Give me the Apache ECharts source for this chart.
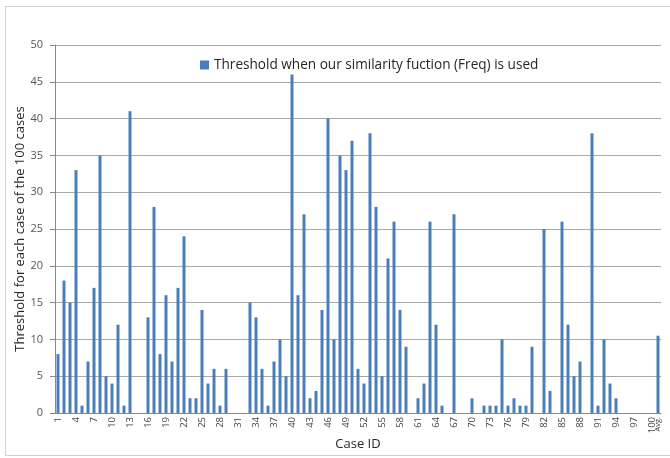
<!DOCTYPE html>
<html>
<head>
<meta charset="utf-8">
<script src="https://cdn.jsdelivr.net/npm/echarts@6/dist/echarts.min.js"></script>
<style>
  html, body { margin: 0; padding: 0; background: #fff; }
  #frame { position: absolute; left: 5px; top: 6px; width: 670px; height: 450px; border: 1px solid #d0d0d0; border-right: none; box-sizing: border-box; }
  #main { width: 670px; height: 458px; position: absolute; left: 0; top: 0; }
</style>
</head>
<body>
<div id="frame"></div>
<div id="main"></div>
<script>
// case ids 1..100 + the average
var caseIds = [];
for (var i = 1; i <= 100; i++) caseIds.push(String(i));
caseIds.push('Avg.');

// threshold read per case (1..100), then Avg.
var thresholds = [
    8, 18, 15, 33, 1, 7, 17, 35, 5, 4,
    12, 1, 41, 0, 0, 13, 28, 8, 16, 7,
    17, 24, 2, 2, 14, 4, 6, 1, 6, 0,
    0, 0, 15, 13, 6, 1, 7, 10, 5, 46,
    16, 27, 2, 3, 14, 40, 10, 35, 33, 37,
    6, 4, 38, 28, 5, 21, 26, 14, 9, 0,
    2, 4, 26, 12, 1, 0, 27, 0, 0, 2,
    0, 1, 1, 1, 10, 1, 2, 1, 1, 9,
    0, 25, 3, 0, 26, 12, 5, 7, 0, 38,
    1, 10, 4, 2, 0, 0, 0, 0, 0, 0,
    10.5
];

var seriesName = 'Threshold when our similarity fuction (Freq) is used';
var yTicks = [0, 5, 10, 15, 20, 25, 30, 35, 40, 45, 50];

var chart = echarts.init(document.getElementById('main'));
var font = '"Open Sans", "DejaVu Sans", sans-serif';
var avgIdx = caseIds.length - 1;

chart.setOption({
    animation: false,
    textStyle: { fontFamily: font },
    grid: { left: 55, right: 9, top: 45, bottom: 45, outerBoundsMode: 'none', containLabel: false },
    legend: {
        data: [seriesName],
        left: 195,
        top: 53,
        icon: 'rect',
        itemWidth: 9,
        itemHeight: 9,
        itemGap: 5,
        textStyle: { fontSize: 13.6, color: '#262626', fontFamily: font }
    },
    xAxis: [{
        type: 'category',
        data: caseIds,
        name: 'Case ID',
        nameLocation: 'middle',
        nameGap: 25,
        nameMoveOverlap: false,
        nameTextStyle: { fontSize: 13, color: '#262626' },
        axisLine: { lineStyle: { color: '#888' } },
        axisTick: { interval: 0, length: 4, lineStyle: { color: '#888' } },
        axisLabel: {
            rotate: 90,
            margin: 4,
            fontSize: 9.5,
            color: '#444',
            interval: function (idx) { return idx % 3 === 0 && idx !== avgIdx; }
        }
    }, {
        // only carries the "Avg." label, drawn smaller like the original
        type: 'category',
        data: caseIds,
        position: 'bottom',
        axisLine: { show: false },
        axisTick: { show: false },
        axisLabel: {
            rotate: 90,
            margin: 4,
            fontSize: 7.5,
            color: '#444',
            showMaxLabel: true,
            interval: function (idx) { return idx === avgIdx; }
        }
    }],
    yAxis: {
        type: 'value',
        min: yTicks[0],
        max: yTicks[yTicks.length - 1],
        interval: 5,
        name: 'Threshold for each case of the 100 cases',
        nameLocation: 'middle',
        nameGap: 28,
        nameMoveOverlap: false,
        nameTextStyle: { fontSize: 13, color: '#262626' },
        axisLine: { show: true, lineStyle: { color: '#888' } },
        axisTick: { show: true, length: 5, lineStyle: { color: '#888' } },
        axisLabel: { margin: 12, fontSize: 11, color: '#555' },
        splitLine: { lineStyle: { color: '#a8a8a8' } }
    },
    series: [{
        name: seriesName,
        type: 'bar',
        data: thresholds,
        barWidth: 3,
        itemStyle: { color: '#4a7ebb' }
    }]
});
</script>
</body>
</html>
